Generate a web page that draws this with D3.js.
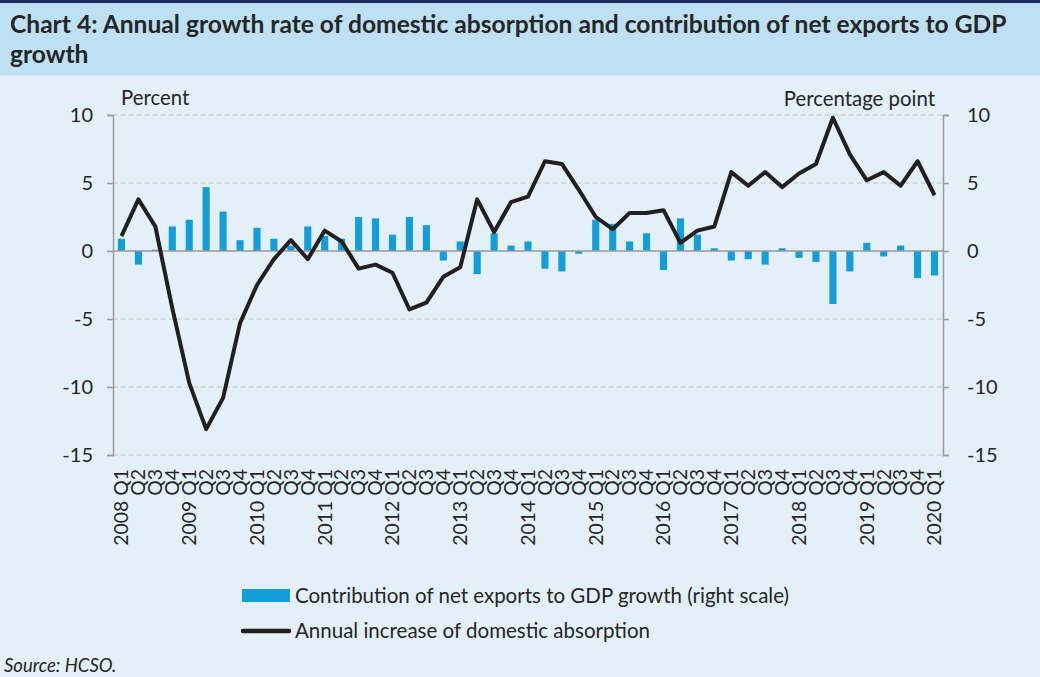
<!DOCTYPE html>
<html>
<head>
<meta charset="utf-8">
<script src="https://cdn.jsdelivr.net/npm/d3@7"></script>
<style>
  html, body { margin: 0; padding: 0; background: #e3f0f7; }
  svg { display: block; font-family: Lato, "Open Sans", sans-serif; }
</style>
</head>
<body>
<div id="chart"></div>
<script>
// quarters, 2008 Q1 .. 2020 Q1
const quarters = [
  "2008 Q1","Q2","Q3","Q4","2009 Q1","Q2","Q3","Q4","2010 Q1","Q2","Q3","Q4",
  "2011 Q1","Q2","Q3","Q4","2012 Q1","Q2","Q3","Q4","2013 Q1","Q2","Q3","Q4",
  "2014 Q1","Q2","Q3","Q4","2015 Q1","Q2","Q3","Q4","2016 Q1","Q2","Q3","Q4",
  "2017 Q1","Q2","Q3","Q4","2018 Q1","Q2","Q3","Q4","2019 Q1","Q2","Q3","Q4",
  "2020 Q1"
];

// contribution of net exports to GDP growth (right scale, percentage point)
const netExports = [
  0.9, -1.0, 0.1, 1.8, 2.3, 4.7, 2.9, 0.8, 1.7, 0.9, 0.4, 1.8,
  1.1, 0.9, 2.5, 2.4, 1.2, 2.5, 1.9, -0.7, 0.7, -1.7, 1.3, 0.4,
  0.7, -1.3, -1.5, -0.2, 2.3, 2.0, 0.7, 1.3, -1.4, 2.4, 1.2, 0.2,
  -0.7, -0.6, -1.0, 0.2, -0.5, -0.8, -3.9, -1.5, 0.6, -0.4, 0.4, -2.0,
  -1.8
];

// annual increase of domestic absorption (left scale, percent)
const absorption = [
  1.1, 3.8, 1.8, -4.2, -9.7, -13.1, -10.8, -5.3, -2.5, -0.6, 0.8, -0.6,
  1.5, 0.7, -1.3, -1.0, -1.6, -4.3, -3.8, -1.9, -1.2, 3.8, 1.4, 3.6,
  4.0, 6.6, 6.4, 4.5, 2.5, 1.6, 2.8, 2.8, 3.0, 0.6, 1.5, 1.8,
  5.8, 4.8, 5.8, 4.7, 5.7, 6.4, 9.8, 7.1, 5.2, 5.8, 4.8, 6.6,
  4.1
];

const yTicks = [10, 5, 0, -5, -10, -15];

const width = 1040, height = 677;
const barColor = "#129ed9";
const lineColor = "#231f20";
const textColor = "#262626";

const svg = d3.select("#chart").append("svg")
    .attr("width", width)
    .attr("height", height);

// header band
svg.append("rect").attr("x", 0).attr("y", 0).attr("width", width).attr("height", 75).attr("fill", "#bde0f2");
svg.append("rect").attr("x", 0).attr("y", 0).attr("width", width).attr("height", 3).attr("fill", "#1f2a5c");

svg.append("text")
    .attr("x", 10).attr("y", 33)
    .attr("font-size", 24.6).attr("font-weight", "bold").attr("fill", textColor)
    .text("Chart 4: Annual growth rate of domestic absorption and contribution of net exports to GDP");
svg.append("text")
    .attr("x", 10).attr("y", 63)
    .attr("font-size", 24.6).attr("font-weight", "bold").attr("fill", textColor)
    .text("growth");

// scales
const x = d3.scaleBand().domain(d3.range(quarters.length)).range([113, 943]);
const yL = d3.scaleLinear().domain([-15, 10]).range([455, 115]);
const yR = d3.scaleLinear().domain([-15, 10]).range([455, 115]);
const bw = x.bandwidth();

// grid
svg.append("g")
    .selectAll("line")
    .data(yTicks.filter(d => d !== 0))
    .join("line")
      .attr("x1", 113).attr("x2", 943)
      .attr("y1", d => yL(d)).attr("y2", d => yL(d))
      .attr("stroke", "#c3c3c3")
      .attr("stroke-width", 1.2)
      .attr("stroke-dasharray", "5,3");

// axes
const fmt = d => String(d);
const axL = svg.append("g").attr("transform", "translate(113,0)")
    .call(d3.axisLeft(yL).tickValues(yTicks).tickSize(6).tickPadding(14).tickFormat(fmt));
const axR = svg.append("g").attr("transform", "translate(943,0)")
    .call(d3.axisRight(yR).tickValues(yTicks).tickSize(6).tickPadding(18).tickFormat(fmt));
[axL, axR].forEach(ax => {
  ax.select(".domain").attr("stroke", "#9a9a9a").attr("stroke-width", 1.5);
  ax.selectAll(".tick line").attr("stroke", "#9a9a9a").attr("stroke-width", 1.5);
  ax.selectAll(".tick text").attr("font-size", 20).attr("fill", textColor)
    .attr("font-family", "Lato, sans-serif");
});

// bars
svg.append("g")
    .selectAll("rect")
    .data(netExports)
    .join("rect")
      .attr("x", (d, i) => x(i) + bw * 0.29)
      .attr("width", bw * 0.42)
      .attr("y", d => yR(Math.max(0, d)))
      .attr("height", d => Math.abs(yR(d) - yR(0)))
      .attr("fill", barColor);

// zero line
svg.append("line")
    .attr("x1", 113).attr("x2", 943)
    .attr("y1", yL(0)).attr("y2", yL(0))
    .attr("stroke", "#9a9a9a").attr("stroke-width", 1.5);

// line
const line = d3.line()
    .x((d, i) => x(i) + bw / 2)
    .y(d => yL(d));
svg.append("path")
    .datum(absorption)
    .attr("fill", "none")
    .attr("stroke", lineColor)
    .attr("stroke-width", 4)
    .attr("stroke-linejoin", "round")
    .attr("d", line);

// axis titles
svg.append("text").attr("x", 121).attr("y", 105)
    .attr("font-size", 20.4).attr("fill", textColor).text("Percent");
svg.append("text").attr("x", 935).attr("y", 106).attr("text-anchor", "end")
    .attr("font-size", 20.4).attr("fill", textColor).text("Percentage point");

// category labels
svg.append("g")
    .selectAll("text")
    .data(quarters)
    .join("text")
      .attr("transform", (d, i) => `translate(${x(i) + bw / 2},469) rotate(-90)`)
      .attr("dy", "0.35em")
      .attr("text-anchor", "end")
      .attr("font-size", 19.4)
      .attr("fill", textColor)
      .text(d => d);

// legend
const lg = svg.append("g");
lg.append("rect").attr("x", 242).attr("y", 589).attr("width", 48).attr("height", 13).attr("fill", barColor);
lg.append("text").attr("x", 295).attr("y", 603).attr("font-size", 20.5).attr("fill", textColor)
    .text("Contribution of net exports to GDP growth (right scale)");
lg.append("line").attr("x1", 243).attr("x2", 289).attr("y1", 631).attr("y2", 631)
    .attr("stroke", lineColor).attr("stroke-width", 4.5).attr("stroke-linecap", "round");
lg.append("text").attr("x", 295).attr("y", 638).attr("font-size", 20.5).attr("fill", textColor)
    .text("Annual increase of domestic absorption");

svg.append("text").attr("x", 4).attr("y", 672)
    .attr("font-size", 18.5).attr("font-style", "italic").attr("fill", textColor)
    .text("Source: HCSO.");
</script>
</body>
</html>
